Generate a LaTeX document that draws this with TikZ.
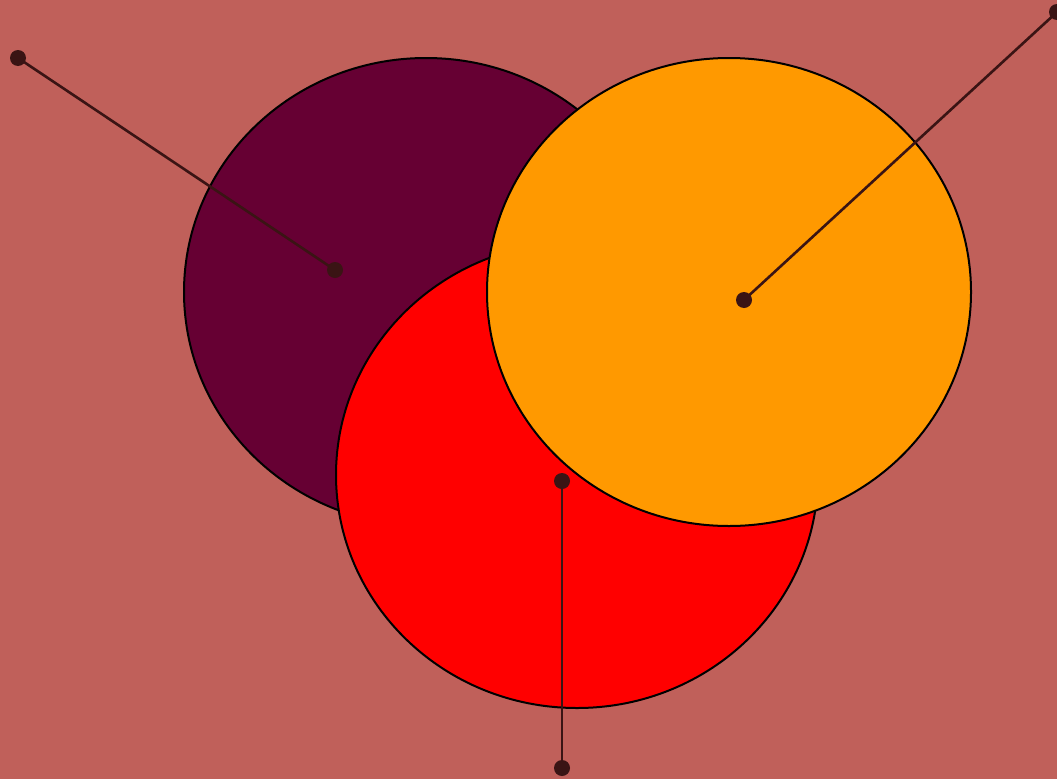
\documentclass[tikz,border=0pt]{standalone}
\begin{document}
\begin{tikzpicture}[x=1pt,y=-1pt,
  blob/.style={draw=black,line width=2pt},
  leader/.style={draw=lead,line width=2.6pt},
  dotnode/.style={circle,fill=lead,inner sep=0pt,minimum size=16pt}]
\definecolor{bg}{HTML}{C0605A}
\definecolor{lead}{HTML}{3A1414}
\definecolor{c1}{HTML}{660033}
\definecolor{c2}{HTML}{FF0000}
\definecolor{c3}{HTML}{FF9900}
\fill[bg] (0,0) rectangle (1057,779);
\useasboundingbox (0,0) rectangle (1057,779);
\path[blob,fill=c1] (426,292) ellipse [x radius=242,y radius=234];
\path[blob,fill=c2] (577,475) ellipse [x radius=241,y radius=233];
\path[blob,fill=c3] (729,292) ellipse [x radius=242,y radius=234];
\node[dotnode] (a1) at (18,58) {};
\node[dotnode] (a2) at (335,270) {};
\node[dotnode] (b1) at (1057,12) {};
\node[dotnode] (b2) at (744,300) {};
\node[dotnode] (c1n) at (562,481) {};
\node[dotnode] (c2n) at (562,768) {};
\draw[leader] (a1.center) -- (a2.center);
\draw[leader] (b1.center) -- (b2.center);
\draw[leader] (c1n.center) -- (c2n.center);
\end{tikzpicture}
\end{document}
